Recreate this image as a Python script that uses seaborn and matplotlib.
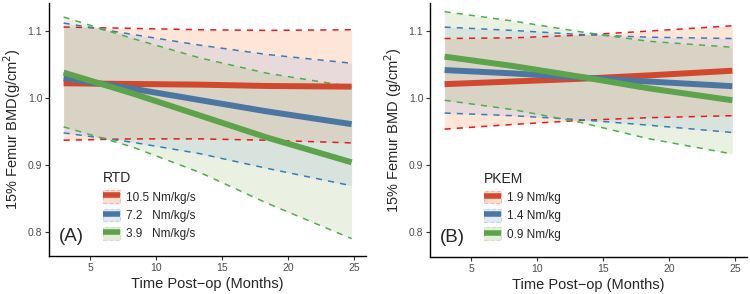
import numpy as np
import pandas as pd
import matplotlib
matplotlib.use('Agg')
import matplotlib.pyplot as plt
from matplotlib.patches import Patch
from matplotlib.lines import Line2D
import seaborn as sns

# values
months = [3, 8.2, 13.3, 18.4, 24.8]

rtd_levels = ['10.5 Nm/kg/s', '7.2   Nm/kg/s', '3.9   Nm/kg/s']
rtd_fit = [[1.022, 1.021, 1.020, 1.018, 1.017],
           [1.030, 1.014, 0.997, 0.980, 0.961],
           [1.038, 1.007, 0.974, 0.941, 0.904]]
rtd_upper = [[1.106, 1.104, 1.102, 1.101, 1.102],
             [1.112, 1.095, 1.079, 1.065, 1.052],
             [1.121, 1.089, 1.060, 1.037, 1.017]]
rtd_lower = [[0.937, 0.939, 0.939, 0.937, 0.933],
             [0.948, 0.934, 0.917, 0.895, 0.869],
             [0.957, 0.927, 0.889, 0.843, 0.790]]

pkem_levels = ['1.9 Nm/kg', '1.4 Nm/kg', '0.9 Nm/kg']
pkem_fit = [[1.021, 1.025, 1.029, 1.034, 1.041],
            [1.042, 1.037, 1.031, 1.025, 1.018],
            [1.062, 1.048, 1.032, 1.015, 0.997]]
pkem_upper = [[1.089, 1.090, 1.094, 1.100, 1.108],
              [1.106, 1.101, 1.095, 1.091, 1.089],
              [1.129, 1.115, 1.099, 1.085, 1.076]]
pkem_lower = [[0.954, 0.961, 0.967, 0.971, 0.974],
              [0.978, 0.974, 0.968, 0.960, 0.949],
              [0.997, 0.983, 0.964, 0.940, 0.917]]

line_cols = ['#D0482E', '#4C76A2', '#5CA34C']
dash_cols = ['#E41A1C', '#377EB8', '#4DAF4A']
fill_cols = ['#F57D3C', '#94A9EC', '#9DBB6E']

sns.set_theme(style='white')
plt.rcParams['font.family'] = ['Liberation Sans', 'DejaVu Sans']

fig = plt.figure(figsize=(7.5, 2.94), dpi=100)
axA = fig.add_axes([0.0656, 0.129, 0.4224, 0.861])
axB = fig.add_axes([0.5736, 0.127, 0.4220, 0.863])


def panel(ax, levels, fit, upper, lower, title, tag, ylab):
    df = pd.DataFrame({'month': months * 3,
                       'bmd': sum(fit, []),
                       'lvl': [l for l in levels for _ in months]})
    for i in range(3):
        ax.fill_between(months, lower[i], upper[i], color=fill_cols[i], alpha=0.2, lw=0)
    for i in range(3):
        ax.plot(months, upper[i], color=dash_cols[i], lw=1.1, ls=(0, (4, 4)))
        ax.plot(months, lower[i], color=dash_cols[i], lw=1.1, ls=(0, (4, 4)))
    sns.lineplot(data=df, x='month', y='bmd', hue='lvl', hue_order=levels,
                 palette=line_cols, linewidth=4.3, legend=False, ax=ax)
    for ln in ax.lines[-3:]:
        ln.set_solid_capstyle('butt')
        ln.set_solid_joinstyle('round')

    ax.set_xlim(1.91, 25.89)
    ax.set_ylim(0.764, 1.142)
    ax.set_xticks([5, 10, 15, 20, 25])
    ax.set_yticks([0.8, 0.9, 1.0, 1.1])
    ax.tick_params(axis='both', length=3, width=0.8, color='#333333',
                   labelsize=7.5, labelcolor='#4D4D4D', pad=2,
                   bottom=True, left=True)
    sns.despine(ax=ax)
    for s in ['left', 'bottom']:
        ax.spines[s].set_color('black')
        ax.spines[s].set_linewidth(1.0)
    ax.set_xlabel('Time Post\u2212op (Months)', fontsize=10.5, labelpad=3)
    ax.set_ylabel(ylab, fontsize=10.5, labelpad=3)
    ax.text(3.6, 0.793, tag, fontsize=13.5, ha='center', va='center')

    handles = [(Patch(facecolor=fill_cols[i], alpha=0.25, edgecolor=dash_cols[i],
                      linestyle='--', lw=0.8),
                Line2D([], [], color=line_cols[i], lw=4, solid_capstyle='butt'))
               for i in range(3)]
    leg = ax.legend(handles, levels, title=title, loc='upper left',
                    bbox_to_anchor=(0.17, 0.335), frameon=False, fontsize=8.5,
                    title_fontsize=10, borderpad=0, handlelength=1.45,
                    handleheight=1.3, labelspacing=0.42, handletextpad=0.5,
                    borderaxespad=0)
    leg._legend_box.align = 'left'


panel(axA, rtd_levels, rtd_fit, rtd_upper, rtd_lower, 'RTD', '(A)',
      '15% Femur BMD(g/cm$^2$)')
panel(axB, pkem_levels, pkem_fit, pkem_upper, pkem_lower, 'PKEM', '(B)',
      '15% Femur BMD (g/cm$^2$)')

fig.savefig('out.png', dpi=100)
